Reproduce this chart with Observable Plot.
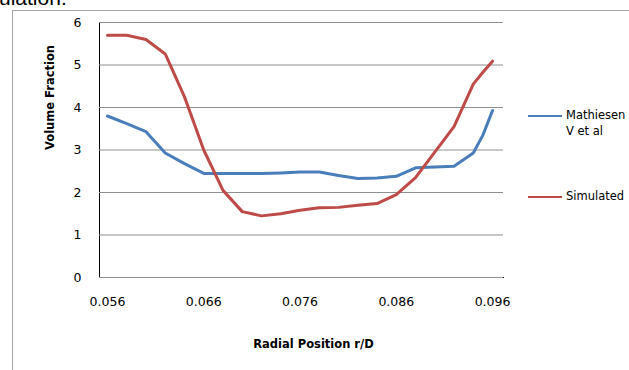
<!DOCTYPE html>
<html>
<head>
<meta charset="utf-8">
<script src="https://cdn.jsdelivr.net/npm/d3@7"></script>
<script src="https://cdn.jsdelivr.net/npm/@observablehq/plot@0.6"></script>
<style>
  html, body { margin: 0; padding: 0; background: #fff; }
  #wrap { position: relative; width: 629px; height: 370px; overflow: hidden; font-family: "DejaVu Sans", sans-serif; }
  #frame { position: absolute; left: 12px; top: 10px; width: 700px; height: 400px; border-left: 1.5px solid #a6a6a6; border-top: 1.5px solid #a6a6a6; }
  #above { position: absolute; left: -1px; top: -13px; font-family: "Liberation Sans", Arial, sans-serif; font-size: 21px; line-height: 21px; color: #000; white-space: nowrap; }
  .leg { position: absolute; font-size: 11.5px; color: #000; line-height: 15px; white-space: nowrap; }
  .legline { position: absolute; height: 1.5px; width: 34px; left: 528px; }
  #chart { position: absolute; left: 0; top: 0; }
</style>
</head>
<body>
<div id="wrap">
  <div id="above">ulation.</div>
  <div id="frame"></div>
  <div id="chart"></div>
</div>
<script>
// Radial position r/D
const radialPos = [0.056, 0.058, 0.060, 0.062, 0.064, 0.066, 0.068, 0.070, 0.072, 0.074, 0.076, 0.078, 0.080, 0.082, 0.084, 0.086, 0.088, 0.090, 0.092, 0.094, 0.095, 0.096];
// Mathiesen V et al
const mathiesen = [3.80, 3.62, 3.43, 2.93, 2.68, 2.45, 2.45, 2.45, 2.45, 2.46, 2.48, 2.48, 2.40, 2.33, 2.34, 2.38, 2.58, 2.60, 2.62, 2.93, 3.35, 3.93];
// Simulated
const simulated = [5.70, 5.70, 5.60, 5.26, 4.25, 3.00, 2.05, 1.55, 1.45, 1.50, 1.58, 1.64, 1.65, 1.70, 1.74, 1.95, 2.35, 2.95, 3.55, 4.55, 4.83, 5.09];
const seriesNames = ["Mathiesen V et al", "Simulated"];
const seriesColors = ["#4a7ebb", "#be4b48"];
const xTicks = [0.056, 0.066, 0.076, 0.086, 0.096];
const yTicks = [0, 1, 2, 3, 4, 5, 6];

const rows = [];
radialPos.forEach((x, i) => {
  rows.push({x, y: mathiesen[i], s: seriesNames[0]});
  rows.push({x, y: simulated[i], s: seriesNames[1]});
});

const plot = Plot.plot({
  width: 629,
  height: 370,
  marginLeft: 99,
  marginRight: 126,
  marginTop: 22,
  marginBottom: 93,
  style: { fontFamily: '"DejaVu Sans", sans-serif', fontSize: "12.5px", color: "#000", background: "transparent" },
  x: { domain: [0.05517, 0.09714], ticks: xTicks, tickFormat: d3.format(".3f"), tickSize: 0, tickPadding: 20, label: null, line: true },
  y: { domain: [0, 6], ticks: yTicks, tickFormat: d3.format("d"), tickSize: 0, tickPadding: 18, label: null, line: true },
  color: { domain: seriesNames, range: seriesColors },
  marks: [
    Plot.gridY(yTicks.filter(d => d > 0), { stroke: "#8f8f8f", strokeOpacity: 1, strokeWidth: 1.2 }),
    Plot.ruleY([0], { stroke: "#8f8f8f", strokeWidth: 1.2 }),
    Plot.line(rows, { x: "x", y: "y", z: "s", stroke: "s", strokeWidth: 3, strokeLinejoin: "round", strokeLinecap: "round" }),
    Plot.text(["Volume Fraction"], { frameAnchor: "left", dx: -49, rotate: -90, fontWeight: "bold", fontSize: 11.5 }),
    Plot.text(["Radial Position r/D"], { frameAnchor: "bottom", dx: 12, dy: 70, fontWeight: "bold", fontSize: 11.5 })
  ]
});
plot.querySelectorAll('[aria-label="x-axis line"], [aria-label="y-axis line"]').forEach(e => { e.setAttribute("stroke", "#8f8f8f"); e.style.stroke = "#8f8f8f"; });
document.getElementById("chart").appendChild(plot);

// legend
const wrap = document.getElementById("wrap");
const legendItems = [
  { lines: ["Mathiesen", "V et al"], color: seriesColors[0], y: 116 },
  { lines: ["Simulated"], color: seriesColors[1], y: 197 }
];
legendItems.forEach(item => {
  const ln = document.createElement("div");
  ln.className = "legline";
  ln.style.top = (item.y - 0.75) + "px";
  ln.style.background = item.color;
  wrap.appendChild(ln);
  item.lines.forEach((t, j) => {
    const tx = document.createElement("div");
    tx.className = "leg";
    tx.style.left = "566px";
    tx.style.top = (item.y - 8 + j * 16) + "px";
    tx.textContent = t;
    wrap.appendChild(tx);
  });
});
</script>
</body>
</html>
